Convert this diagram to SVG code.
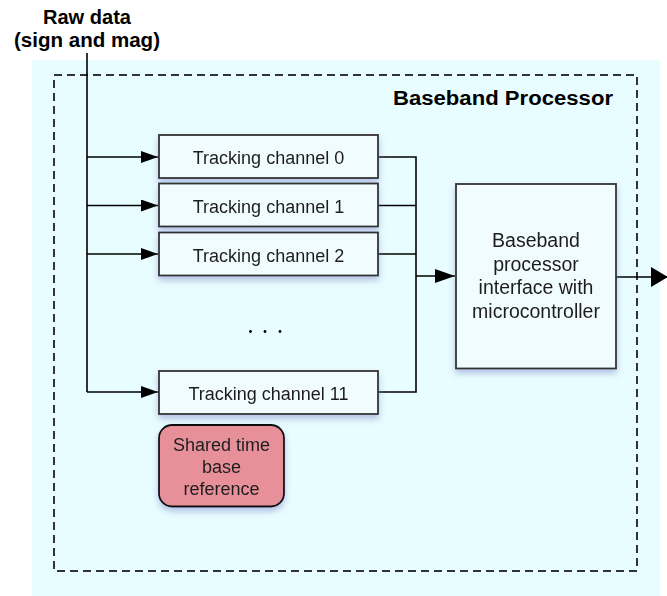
<svg xmlns="http://www.w3.org/2000/svg" width="667" height="596" viewBox="0 0 667 596">
  <defs>
    <filter id="shadow" x="-20%" y="-20%" width="140%" height="150%">
      <feGaussianBlur in="SourceAlpha" stdDeviation="3"/>
      <feOffset dx="0" dy="4" result="blur"/>
      <feFlood flood-color="#7d86c8" flood-opacity="0.5"/>
      <feComposite in2="blur" operator="in"/>
      <feMerge>
        <feMergeNode/>
        <feMergeNode in="SourceGraphic"/>
      </feMerge>
    </filter>
    <marker id="arrow" viewBox="0 0 17 12" refX="17" refY="6" markerWidth="17" markerHeight="12" markerUnits="userSpaceOnUse" orient="auto">
      <path d="M0,0 L17,6 L0,12 Z" fill="#000"/>
    </marker>
    <marker id="arrowBig" viewBox="0 0 20 14" refX="20" refY="7" markerWidth="20" markerHeight="14" markerUnits="userSpaceOnUse" orient="auto">
      <path d="M0,0 L20,7 L0,14 Z" fill="#000"/>
    </marker>
    <marker id="arrowOut" viewBox="0 0 17 20" refX="17" refY="10" markerWidth="17" markerHeight="20" markerUnits="userSpaceOnUse" orient="auto">
      <path d="M0,0 L17,10 L0,20 Z" fill="#000"/>
    </marker>
  </defs>
  <style>
    text { font-family: "Liberation Sans", Arial, Helvetica, sans-serif; fill: #1e1e1e; text-anchor: middle; }
    .title { font-weight: bold; font-size: 20px; fill: #000; }
    .label { font-size: 18px; }
    .big { font-size: 19.5px; }
    .box { fill: #f1fcff; stroke: #333; stroke-width: 1.8; }
    .wire { fill: none; stroke: #000; stroke-width: 1.6; }
  </style>

  <!-- processor area -->
  <rect x="32" y="60" width="628" height="536" fill="#e8fdff"/>
  <rect id="processor-border" x="54" y="75" width="583" height="496" fill="none" stroke="#333" stroke-width="2" stroke-dasharray="8,5"/>
  <text class="title" x="503" y="105" textLength="220" lengthAdjust="spacingAndGlyphs">Baseband Processor</text>

  <!-- input label -->
  <g id="raw-data">
    <text class="title" x="87" y="24" textLength="88" lengthAdjust="spacingAndGlyphs">Raw data</text>
    <text class="title" x="87" y="47" textLength="146" lengthAdjust="spacingAndGlyphs">(sign and mag)</text>
  </g>

  <!-- connectors -->
  <g id="connectors">
    <path class="wire" d="M87,53 V392"/>
    <path class="wire" d="M87,157 H158" marker-end="url(#arrow)"/>
    <path class="wire" d="M87,205.5 H158" marker-end="url(#arrow)"/>
    <path class="wire" d="M87,254 H158" marker-end="url(#arrow)"/>
    <path class="wire" d="M87,392 H158" marker-end="url(#arrow)"/>
    <path class="wire" d="M378,157 H416 M378,205.5 H416 M378,254 H416 M378,392 H416 M416,156.2 V392.8"/>
    <path class="wire" stroke-width="2.2" d="M416,276 H455" marker-end="url(#arrowBig)"/>
    <path class="wire" stroke-width="3" d="M616,277 H668" marker-end="url(#arrowOut)"/>
  </g>

  <!-- tracking channels -->
  <g id="channel-0" filter="url(#shadow)">
    <rect class="box" x="159" y="135" width="219" height="43"/>
    <text class="label" x="268.5" y="164">Tracking channel 0</text>
  </g>
  <g id="channel-1" filter="url(#shadow)">
    <rect class="box" x="159" y="183.5" width="219" height="43"/>
    <text class="label" x="268.5" y="212.5">Tracking channel 1</text>
  </g>
  <g id="channel-2" filter="url(#shadow)">
    <rect class="box" x="159" y="232.5" width="219" height="43"/>
    <text class="label" x="268.5" y="261.5">Tracking channel 2</text>
  </g>
  <g id="ellipsis" fill="#000">
    <circle cx="250.5" cy="331.5" r="1.4"/>
    <circle cx="265" cy="331.5" r="1.4"/>
    <circle cx="280" cy="331.5" r="1.4"/>
  </g>
  <g id="channel-11" filter="url(#shadow)">
    <rect class="box" x="159" y="371" width="219" height="43"/>
    <text class="label" x="268.5" y="400">Tracking channel 11</text>
  </g>

  <!-- shared time base -->
  <g id="time-base" filter="url(#shadow)">
    <rect x="159" y="425" width="125" height="81.5" rx="13" ry="13" fill="#e8909a" stroke="#111" stroke-width="1.8"/>
    <text class="label" x="221.5" y="450.5">Shared time</text>
    <text class="label" x="221.5" y="472.5">base</text>
    <text class="label" x="221.5" y="495">reference</text>
  </g>

  <!-- interface block -->
  <g id="interface" filter="url(#shadow)">
    <rect class="box" x="456" y="184" width="160" height="184.5"/>
    <text class="big" x="536" y="247">Baseband</text>
    <text class="big" x="536" y="270.7">processor</text>
    <text class="big" x="536" y="294.4">interface with</text>
    <text class="big" x="536" y="318.2">microcontroller</text>
  </g>
</svg>
